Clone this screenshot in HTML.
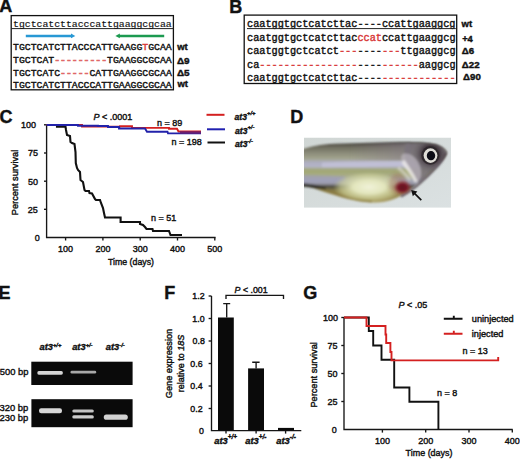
<!DOCTYPE html>
<html><head><meta charset="utf-8"><style>
html,body{margin:0;padding:0;background:#fff;width:520px;height:459px;overflow:hidden}
svg{display:block}
text{font-family:"Liberation Sans",sans-serif;fill:#111;stroke:#111;stroke-width:0.4px}
.r{stroke:#d83838}
.m{font-family:"Liberation Mono",monospace}
.b{font-weight:bold}
.i{font-style:italic}
.r{fill:#d83838}
.pl{fill:#111;font-weight:bold;font-size:18px}
.rd{fill:#e06868;stroke:#e06868;stroke-width:0.7px}
</style></head><body>
<svg width="520" height="459" viewBox="0 0 520 459">
<!-- ===== Panel A ===== -->
<text class="pl" x="-0.8" y="12">A</text>
<rect x="11.2" y="15.6" width="162.2" height="74.2" fill="none" stroke="#111" stroke-width="1.3"/>
<line x1="11.2" y1="28.6" x2="173.4" y2="28.6" stroke="#222" stroke-width="1"/>
<g class="m" font-size="9.8">
<text class="m" x="13" y="26.5" font-size="9.8" style="stroke-width:0.15px">tgctcatcttacccattgaaggcgcaa</text>
<text class="m" x="13" y="50" font-size="9.8">TGCTCATCTTACCCATTGAAGG<tspan class="r">T</tspan>GCAA</text>
<text class="m" x="13" y="63" font-size="9.8">TGCTCAT<tspan class="r rd">---------</tspan>TGAAGGCGCAA</text>
<text class="m" x="13" y="76" font-size="9.8">TGCTCATC<tspan class="r rd">-----</tspan>CATTGAAGGCGCAA</text>
<text class="m" x="13" y="88" font-size="9.8">TGCTCATCTTACCCATTGAAGGCGCAA</text>
</g>
<g stroke-width="2.5" fill="none">
<line x1="25.8" y1="35.9" x2="72" y2="35.9" stroke="#2898d4"/>
<path d="M71 33.5 L75.3 35.9 L71 38.3Z" fill="#2898d4" stroke="none"/>
<line x1="119" y1="35.9" x2="164.2" y2="35.9" stroke="#1c9a50"/>
<path d="M119.8 33.5 L115.4 35.9 L119.8 38.3Z" fill="#1c9a50" stroke="none"/>
</g>
<g class="b" font-size="9.6">
<text class="b" x="177.2" y="50.2" font-size="9.5">wt</text>
<text class="b" transform="translate(177,63.6) scale(1.1,1)" font-size="9">Δ9</text>
<text class="b" transform="translate(177,76) scale(1.1,1)" font-size="9">Δ5</text>
<text class="b" x="177.4" y="87" font-size="9.5">wt</text>
</g>
<!-- ===== Panel B ===== -->
<text class="pl" x="229.3" y="13">B</text>
<rect x="244.2" y="15.1" width="212.5" height="68.4" fill="none" stroke="#111" stroke-width="1.3"/>
<text class="m" x="247" y="26.5" font-size="10.23">caatggtgctcatcttac----ccattgaaggcg</text>
<line x1="247" y1="28.6" x2="455.8" y2="28.6" stroke="#222" stroke-width="1"/>
<text class="m" x="247" y="41" font-size="10.23">caatggtgctcatcttac<tspan class="r">ccat</tspan>ccattgaaggcg</text>
<text class="m" x="247" y="54.2" font-size="10.23">caatggtgctcatct<tspan class="r">---</tspan>----<tspan class="r">---</tspan>ttgaaggcg</text>
<text class="m" x="247" y="67.7" font-size="10.23">ca<tspan class="r">----------------</tspan>----<tspan class="r">------</tspan>aaggcg</text>
<text class="m" x="247" y="80.8" font-size="10.23">caatggtgctcatcttac----<tspan class="r">------------</tspan></text>
<text class="b" x="461.5" y="27" font-size="9.5">wt</text>
<text class="b" x="462.2" y="41.5" font-size="9.3">+4</text>
<text class="b" transform="translate(461.8,54) scale(1.08,1)" font-size="9">Δ6</text>
<text class="b" transform="translate(461.8,67.5) scale(1.08,1)" font-size="9">Δ22</text>
<text class="b" transform="translate(463,80.3) scale(1.08,1)" font-size="9">Δ90</text>
<!-- ===== Panel C ===== -->
<text class="pl" x="-0.6" y="123.2">C</text>
<g stroke="#161616" stroke-width="1.35" fill="none">
<path d="M46.6 124.8 V237.5 H215.6"/>
<line x1="44" y1="124.8" x2="46.6" y2="124.8"/>
<line x1="44" y1="153.0" x2="46.6" y2="153.0"/>
<line x1="44" y1="181.2" x2="46.6" y2="181.2"/>
<line x1="44" y1="209.3" x2="46.6" y2="209.3"/>
<line x1="65.6" y1="237.5" x2="65.6" y2="240.5"/>
<line x1="102.9" y1="237.5" x2="102.9" y2="240.5"/>
<line x1="140.2" y1="237.5" x2="140.2" y2="240.5"/>
<line x1="177.5" y1="237.5" x2="177.5" y2="240.5"/>
<line x1="214.8" y1="237.5" x2="214.8" y2="240.5"/>
</g>
<g font-size="9">
<text x="21" y="127.9">100</text>
<text x="27.9" y="156.1">75</text>
<text x="27.9" y="184.9">50</text>
<text x="27.8" y="212.7">25</text>
<text x="34.7" y="240.5">0</text>
<text x="65.6" y="251.6" text-anchor="middle">100</text>
<text x="102.9" y="251.6" text-anchor="middle">200</text>
<text x="140.2" y="251.6" text-anchor="middle">300</text>
<text x="177.5" y="251.6" text-anchor="middle">400</text>
<text x="214.8" y="251.6" text-anchor="middle">500</text>
<text x="108" y="265" textLength="46" lengthAdjust="spacingAndGlyphs">Time (days)</text>
<text transform="translate(18.2,182.5) rotate(-90)" text-anchor="middle" font-size="9.2">Percent survival</text>
<text x="93.5" y="120" font-size="9"><tspan class="i">P</tspan> &lt; .0001</text>
<text x="157" y="125.6">n = 89</text>
<text x="171.5" y="144.5">n = 198</text>
<text x="151" y="221">n = 51</text>
</g>
<g stroke-width="2" fill="none">
<line x1="206.5" y1="114.8" x2="224.5" y2="114.8" stroke="#d42020"/>
<line x1="207" y1="129.3" x2="225" y2="129.3" stroke="#2020b0"/>
<line x1="207.5" y1="142.5" x2="225" y2="142.5" stroke="#111"/>
</g>
<g font-size="8.6" class="i">
<text class="i b" x="234.6" y="119.6">at3<tspan font-size="5.8" dy="-4.3">+/+</tspan></text>
<text class="i b" x="235" y="133.6">at3<tspan font-size="5.8" dy="-4.3">+/-</tspan></text>
<text class="i b" x="235" y="146.8">at3<tspan font-size="5.8" dy="-4.3">-/-</tspan></text>
</g>
<polyline points="46.6,125.0 57.0,125.0 57.0,126.6 65.5,126.6 66.0,130.0 67.0,135.0 68.5,135.5 70.0,136.0 70.5,142.0 72.0,143.0 74.5,144.0 75.5,152.0 75.8,163.0 77.0,168.0 78.0,170.0 80.0,172.0 80.5,180.0 83.0,182.0 84.5,190.0 85.5,191.0 89.0,191.0 89.5,193.0 92.0,193.5 95.0,199.0 96.0,200.0 100.0,200.0 101.0,203.0 103.0,208.0 104.0,213.0 105.0,217.5 120.6,217.5 120.6,222.0 140.0,222.0 140.0,224.0 143.0,225.0 145.0,227.0 146.5,229.0 152.5,229.0 153.0,231.0 169.0,231.0 170.5,235.0 182.0,235.0" fill="none" stroke="#111" stroke-width="2.1"/>
<polyline points="46.6,125.0 82.0,125.0 82.0,126.6 120.0,126.6 120.0,126.3 132.0,126.3 132.0,127.9 169.0,127.9 169.0,128.8 177.0,128.8 178.5,131.5 201.0,131.5" fill="none" stroke="#d42020" stroke-width="1.9"/>
<polyline points="46.6,125.0 78.0,125.0 78.0,125.8 98.0,125.8 98.0,126.0 108.0,126.0 108.0,127.0 119.0,127.0 119.0,128.5 145.0,128.5 147.0,131.8 167.5,131.8 168.0,133.4 201.0,133.4" fill="none" stroke="#2222aa" stroke-width="1.9"/>
<line x1="180" y1="132.5" x2="201" y2="132.5" stroke="#6a2070" stroke-width="2.4"/>
<!-- ===== Panel E ===== -->
<text class="pl" x="-1.4" y="298.8">E</text>
<g font-size="9.5" class="b i">
<text class="b i" x="39.5" y="350.2" font-size="9.3">at3<tspan font-size="5.8" dy="-3.3">+/+</tspan></text>
<text class="b i" x="72.2" y="350.2" font-size="9.3">at3<tspan font-size="5.8" dy="-3.3">+/-</tspan></text>
<text class="b i" x="105.8" y="350.2" font-size="9.3">at3<tspan font-size="5.8" dy="-3.3">-/-</tspan></text>
</g>
<rect x="31.3" y="361.7" width="101.3" height="23.3" fill="#0a0a0a"/>
<rect x="31.4" y="399.2" width="101.2" height="28" fill="#0a0a0a"/>
<defs><filter id="bl" x="-20%" y="-100%" width="140%" height="300%"><feGaussianBlur stdDeviation="0.65"/></filter></defs>
<g filter="url(#bl)">
<rect x="37.3" y="371.1" width="25.6" height="3.6" rx="1.6" fill="#d4d4d4"/>
<rect x="70.5" y="370.8" width="25.7" height="2.8" rx="1.3" fill="#a8a8a8"/>
<rect x="39" y="408.2" width="23" height="5" rx="2.2" fill="#d8d8d8"/>
<rect x="72.3" y="409.4" width="21.5" height="3.2" rx="1.5" fill="#c4c4c4"/>
<rect x="72.3" y="415.2" width="21.5" height="3.2" rx="1.5" fill="#cccccc"/>
<rect x="103.8" y="414.4" width="24" height="5.4" rx="2.6" fill="#d2d2d2"/>
</g>
<g font-size="9.4">
<text x="-0.2" y="375.4">500 bp</text>
<text x="-0.5" y="411">320 bp</text>
<text x="-0.5" y="421">230 bp</text>
</g>
<!-- ===== Panel F ===== -->
<text class="pl" x="164.2" y="298.8">F</text>
<g stroke="#161616" stroke-width="1.35" fill="none">
<path d="M211.5 296 V430.6 H301.3"/>
<line x1="208.6" y1="296.0" x2="211.5" y2="296.0"/>
<line x1="208.6" y1="318.5" x2="211.5" y2="318.5"/>
<line x1="208.6" y1="341.0" x2="211.5" y2="341.0"/>
<line x1="208.6" y1="363.5" x2="211.5" y2="363.5"/>
<line x1="208.6" y1="386.0" x2="211.5" y2="386.0"/>
<line x1="208.6" y1="408.5" x2="211.5" y2="408.5"/>
<line x1="226.0" y1="430.6" x2="226.0" y2="433.6"/>
<line x1="256.1" y1="430.6" x2="256.1" y2="433.6"/>
<line x1="285.6" y1="430.6" x2="285.6" y2="433.6"/>
<path d="M226.7 317.5 V303.6 M223.2 303.6 H230.2 M256.1 368.4 V362.2 M252.2 362.2 H259.6"/>
<path d="M226 299 V295.3 H283.5 V299"/>
</g>
<rect x="218" y="317.5" width="15.8" height="113.1" fill="#0a0a0a"/>
<rect x="248.1" y="368.4" width="15.9" height="62.2" fill="#0a0a0a"/>
<rect x="278" y="427.9" width="16" height="2.7" fill="#0a0a0a"/>
<g font-size="8.8">
<text x="204.6" y="299.1" text-anchor="end">1.2</text>
<text x="204.6" y="321.6" text-anchor="end">1.0</text>
<text x="204.8" y="344.4" text-anchor="end">0.8</text>
<text x="202.6" y="366.8" text-anchor="end">0.6</text>
<text x="202.6" y="389.4" text-anchor="end">0.4</text>
<text x="202.6" y="411.9" text-anchor="end">0.2</text>
<text x="203.8" y="434.1" text-anchor="end">0</text>
<text x="234.6" y="292.5"><tspan class="i">P</tspan> &lt; .001</text>
<text transform="translate(172.2,363.5) rotate(-90)" text-anchor="middle" font-size="9.2">Gene expression</text>
<text transform="translate(183.8,363.5) rotate(-90)" text-anchor="middle" font-size="9">relative to <tspan class="i">18S</tspan></text>
</g>
<text class="b i" x="214.2" y="443.7" font-size="9.4">at3<tspan font-size="6.4" dy="-4.3">+/+</tspan></text>
<text class="b i" x="245.2" y="443.7" font-size="9.4">at3<tspan font-size="6.4" dy="-4.3">+/-</tspan></text>
<text class="b i" x="276.2" y="443.7" font-size="9.4">at3<tspan font-size="6.4" dy="-4.3">-/-</tspan></text>
<!-- ===== Panel G ===== -->
<text class="pl" x="303.2" y="299.3">G</text>
<g stroke="#161616" stroke-width="1.35" fill="none">
<path d="M344 317.5 V429.5 H512.7"/>
<line x1="341.3" y1="317.5" x2="344" y2="317.5"/>
<line x1="341.3" y1="345.5" x2="344" y2="345.5"/>
<line x1="341.3" y1="373.5" x2="344" y2="373.5"/>
<line x1="341.3" y1="401.5" x2="344" y2="401.5"/>
<line x1="382.4" y1="429.5" x2="382.4" y2="432.6"/>
<line x1="425.7" y1="429.5" x2="425.7" y2="432.6"/>
<line x1="469.0" y1="429.5" x2="469.0" y2="432.6"/>
<line x1="512.3" y1="429.5" x2="512.3" y2="432.6"/>
</g>
<g font-size="9">
<text x="323" y="320.6">100</text>
<text x="327.6" y="348.7">75</text>
<text x="327.6" y="376.7">50</text>
<text x="327.6" y="404.8">25</text>
<text x="331.8" y="432.8">0</text>
<text x="382.4" y="443.5" text-anchor="middle">100</text>
<text x="425.7" y="443.5" text-anchor="middle">200</text>
<text x="469.0" y="443.5" text-anchor="middle">300</text>
<text x="512.3" y="443.5" text-anchor="middle">400</text>
<text x="405.6" y="456.3" textLength="46.9" lengthAdjust="spacingAndGlyphs">Time (days)</text>
<text transform="translate(317.3,374.9) rotate(-90)" text-anchor="middle" font-size="9.2">Percent survival</text>
<text x="398.6" y="307.5"><tspan class="i">P</tspan> &lt; .05</text>
<text x="471.8" y="322.2" font-size="9.2">uninjected</text>
<text x="471.8" y="337.1" font-size="9.2">injected</text>
<text x="462.6" y="353.8">n = 13</text>
<text x="437.1" y="396.2">n = 8</text>
</g>
<g stroke-width="1.9" fill="none">
<path d="M443.8 318.8 H462.5 M453.8 318.8 V315.8" stroke="#111"/>
<path d="M443.8 333.8 H462.5 M453.8 333.8 V330.8" stroke="#d42020"/>
<polyline points="344.0,317.5 368.8,317.5 368.8,331.0 373.2,331.0 373.2,345.5 381.5,345.5 381.5,359.8 394.2,359.8 394.2,387.5 409.4,387.5 409.4,401.7 438.4,401.7 438.4,429.5" stroke="#111"/>
<polyline points="344.0,317.5 366.5,317.5 366.5,326.0 385.5,326.0 385.5,334.5 386.2,334.5 386.2,343.0 390.4,343.0 390.4,352.0 391.5,352.0 391.5,360.4 498.2,360.4 498.2,357.0" stroke="#d42020"/>
</g>
<!-- ===== Panel D ===== -->
<text class="pl" x="290.2" y="123.2">D</text>
<defs>
<clipPath id="ph"><rect x="304" y="137.5" width="147" height="70.3"/></clipPath>
<linearGradient id="bgD" x1="0" y1="0" x2="1" y2="1"><stop offset="0" stop-color="#d0d6d4"/><stop offset="1" stop-color="#dbe1e2"/></linearGradient>
<linearGradient id="body" x1="0" y1="143" x2="0" y2="203" gradientUnits="userSpaceOnUse">
<stop offset="0" stop-color="#3e3c36"/>
<stop offset="0.06" stop-color="#6c6a5c"/>
<stop offset="0.16" stop-color="#8a8a78"/>
<stop offset="0.26" stop-color="#a2a48e"/>
<stop offset="0.32" stop-color="#aeaec0"/>
<stop offset="0.39" stop-color="#b4b4c8"/>
<stop offset="0.45" stop-color="#a0a672"/>
<stop offset="0.54" stop-color="#a8ac84"/>
<stop offset="0.62" stop-color="#a6a8b4"/>
<stop offset="0.68" stop-color="#9898a8"/>
<stop offset="0.72" stop-color="#4c4a40"/>
<stop offset="0.80" stop-color="#8a7e48"/>
<stop offset="1" stop-color="#b0a46c"/>
</linearGradient>
<radialGradient id="belly" cx="0.5" cy="0.5" r="0.5">
<stop offset="0" stop-color="#f0f2d8"/><stop offset="0.45" stop-color="#e2e5bc"/><stop offset="0.8" stop-color="#d0d49a" stop-opacity="0.6"/><stop offset="1" stop-color="#c8cc90" stop-opacity="0"/>
</radialGradient>
<radialGradient id="blood" cx="0.5" cy="0.5" r="0.5">
<stop offset="0" stop-color="#5e0e1c"/><stop offset="0.5" stop-color="#7a1a28"/><stop offset="1" stop-color="#a04040" stop-opacity="0"/>
</radialGradient>
<radialGradient id="headfill" cx="431" cy="154" r="20" gradientUnits="userSpaceOnUse">
<stop offset="0" stop-color="#2a2226"/><stop offset="0.4" stop-color="#3e343a"/><stop offset="0.62" stop-color="#5e565c" stop-opacity="0.85"/><stop offset="1" stop-color="#7e7a78" stop-opacity="0.15"/>
</radialGradient>
<linearGradient id="ubody" x1="350" y1="0" x2="410" y2="0" gradientUnits="userSpaceOnUse"><stop offset="0" stop-color="#857a88" stop-opacity="0"/><stop offset="1" stop-color="#857a88"/></linearGradient>
<filter id="sfe" x="-20%" y="-20%" width="140%" height="140%"><feGaussianBlur stdDeviation="0.55"/></filter>
<filter id="sf" x="-5%" y="-10%" width="110%" height="120%"><feGaussianBlur stdDeviation="0.8"/></filter>
<filter id="sf2" x="-20%" y="-20%" width="140%" height="140%"><feGaussianBlur stdDeviation="1.5"/></filter>
</defs>
<g clip-path="url(#ph)">
<rect x="304" y="137.5" width="147" height="70.3" fill="url(#bgD)"/>
<g filter="url(#sf)">
<path d="M300 150 C310 146.5 320 144.5 335 143.8 L400 142 C415 141.8 428 142.5 436 144.5 C442 146.5 446 149.5 447 152.5 C446.5 156 443 160 439.4 163.8 C434 169 428 175 417.3 184.3 C412 188 408 191.4 398.4 197 C392 200.5 385 202.5 372 202.5 C355 201.5 340 197 325 192 C315 188.5 308 186 300 185 Z" fill="url(#body)"/>
<!-- lateral silver stripe with flecks -->
<path d="M322 162.5 C345 161.5 375 161 406 160.5 L407 166 C380 166.8 348 167.2 322 167.2 Z" fill="#d0cee6" opacity="0.5"/>
<path d="M300 175 C315 175 330 175.5 345 176.5 L345 182 C330 182.5 315 182.5 300 182.5 Z" fill="#9c9cbc" opacity="0.6"/>
<!-- dark lower edge left -->
<path d="M300 183.3 C310 183.8 318 185 326 187.8 L326 189.6 C316 187.8 308 186.8 300 186.6 Z" fill="#2a2822" opacity="0.85"/>
<!-- ventral fin olive-brown -->
<path d="M318 188 C335 192 352 196.5 372 199.5 L372 202.5 C355 201.5 340 197 325 192 Z" fill="#8a7a40" opacity="0.75"/>
</g>
<ellipse cx="369" cy="187" rx="36" ry="15" fill="url(#belly)" filter="url(#sf)"/>
<g filter="url(#sf)">
<!-- reddish brown gill region -->
<ellipse cx="398" cy="184" rx="9" ry="11" fill="#9a5848" opacity="0.3" filter="url(#sf2)"/>
<path d="M350 144 L410 142.6 L410 160 L350 160.5 Z" fill="url(#ubody)" opacity="0.6"/>
<!-- head base gray -->
<path d="M406 143.2 C418 142.6 430 143 436 144.5 C442 146.5 446 149.5 447 152.5 C446.5 156 443 160 439.4 163.8 C434 169 428 175 419 183 C414 176 409 168 406 160 C404 154 404 148 406 143.2 Z" fill="#77707a" opacity="0.85"/>
<!-- head -->
<path d="M404 143.2 C418 142.6 430 143 436 144.5 C442 146.5 446 149.5 447 152.5 C446.5 156 443 160 439.4 163.8 C434 169 428 175 419 183 C414 176 408 168 404 160 C401 154 401 148 404 143.2 Z" fill="url(#headfill)"/>
<!-- operculum silver -->
<path d="M403 154 C409 152 416 157 419 164 C422 171 422 177 418 182 C413 177 408 171 404.5 166 C401 161 400 156 403 154 Z" fill="#c4bec8" opacity="0.6"/>
<path d="M404 160 C409 166 414 173 417.5 181 L415 183 C411 176 406 169 401.5 163 Z" fill="#f2f0ec" opacity="0.7"/>
<path d="M399 166 C404 170 408 174 411 179 L409 181 C405 176 401 172 397 169 Z" fill="#e8e4e0" opacity="0.5"/>
</g>
<path d="M445.5 153 C444 158 441 162 438 165.5 C433 171 427 177 419 184 C414 188.5 409 192 401 196.5" fill="none" stroke="#4a3c44" stroke-width="2.2" opacity="0.8" filter="url(#sf)"/>
<ellipse cx="402.5" cy="187.5" rx="9.5" ry="7.5" fill="url(#blood)" filter="url(#sf)"/>
<g filter="url(#sfe)">
<ellipse cx="430.3" cy="155.4" rx="9" ry="9.3" fill="#2a2428" opacity="0.85"/>
<ellipse cx="430.5" cy="155.6" rx="6.9" ry="7.3" fill="#e0ded8"/>
<ellipse cx="431" cy="155.7" rx="4.2" ry="4.6" fill="#080812"/>
</g>
</g>
<g fill="#111" stroke="#111">
<line x1="413.5" y1="192.3" x2="421.3" y2="200.2" stroke-width="1.7"/>
<path d="M411.2 190 L417.4 191.6 L412.8 196.2 Z" stroke="none"/>
</g>

</svg>
</body></html>
